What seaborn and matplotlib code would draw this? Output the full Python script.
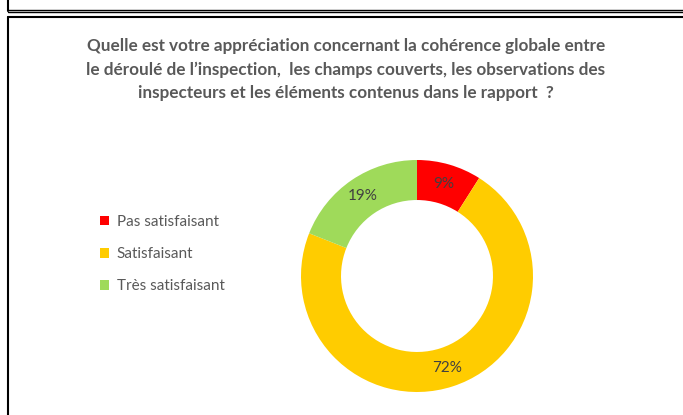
import matplotlib
matplotlib.use("Agg")
import matplotlib.pyplot as plt
import seaborn as sns
from matplotlib.lines import Line2D

categories = ["Pas satisfaisant", "Satisfaisant", "Très satisfaisant"]
values = [9, 72, 19]
colors = ["#FF0000", "#FFCC00", "#9FDA5A"]
title = ("Quelle est votre appréciation concernant la cohérence globale entre\n"
         "le déroulé de l’inspection,  les champs couverts, les observations des\n"
         "inspecteurs et les éléments contenus dans le rapport  ?")

sns.set_theme(style="white")
plt.rcParams['font.family'] = ['Lato', 'DejaVu Sans']

W, H = 683, 415
fig = plt.figure(figsize=(W / 100, H / 100), dpi=100)
fig.patch.set_facecolor("white")

def fx(x):
    return x / W

def fy(y):
    return 1 - y / H

# frames
fig.add_artist(Line2D([fx(8), fx(8)], [fy(0), fy(11)], color="black", lw=1.5))
fig.add_artist(Line2D([fx(8), fx(683)], [fy(10), fy(10)], color="black", lw=1.0))
fig.add_artist(Line2D([fx(8), fx(683)], [fy(12), fy(12)], color="black", lw=1.0))
fig.add_artist(Line2D([fx(8), fx(683)], [fy(17.5), fy(17.5)], color="black", lw=1.5))
fig.add_artist(Line2D([fx(8), fx(8)], [fy(17.5), fy(415)], color="black", lw=1.5))

fig.text(fx(346), fy(69.5), title, ha="center", va="center", fontsize=12.3,
         fontweight="bold", color="#595959", linespacing=1.55)

# donut
cx, cy, r = 417, 276, 116
ax = fig.add_axes([fx(cx - r), fy(cy + r), 2 * r / W, 2 * r / H])
wedges, texts, autotexts = ax.pie(
    values, colors=colors, startangle=90, counterclock=False,
    wedgeprops=dict(width=0.345, linewidth=0),
    autopct=lambda p: f"{p:.0f}%", pctdistance=0.83,
    textprops=dict(fontsize=11, color="#404040"))
ax.set_aspect("equal")
ax.set_xlim(-1, 1)
ax.set_ylim(-1, 1)
ax.axis("off")

# legend
leg = fig.legend(wedges, categories, loc="upper left",
                 bbox_to_anchor=(fx(86), fy(201)), frameon=False,
                 fontsize=11, labelcolor="#595959", handlelength=0.6,
                 handleheight=0.6, handletextpad=0.5, labelspacing=1.2)

fig.savefig("out.png", dpi=100)
